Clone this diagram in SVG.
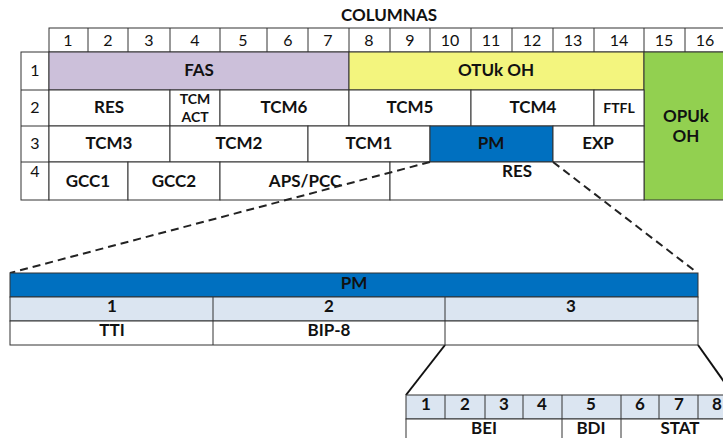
<svg xmlns="http://www.w3.org/2000/svg" width="723" height="438" viewBox="0 0 723 438">
<style>
text{font-family:Lato,"Liberation Sans",Arial,sans-serif;fill:#111;text-anchor:middle}
.n{font-size:16px}
.b{font-size:17px;font-weight:bold}
.s{font-size:14px;font-weight:bold}
.c{stroke:#333;stroke-width:1}
.dash{stroke:#222;stroke-width:2;stroke-dasharray:8,5;fill:none}
.solid{stroke:#111;stroke-width:2;fill:none}
</style>
<rect width="723" height="438" fill="#fff"/>
<text class="b" x="389" y="21">COLUMNAS</text>
<g id="header">
<rect x="49" y="28" width="680" height="24" fill="#fff" class="c"/>
<g class="c">
<line x1="88" y1="28" x2="88" y2="52"/><line x1="128" y1="28" x2="128" y2="52"/><line x1="170" y1="28" x2="170" y2="52"/><line x1="220" y1="28" x2="220" y2="52"/><line x1="267" y1="28" x2="267" y2="52"/><line x1="308" y1="28" x2="308" y2="52"/><line x1="349" y1="28" x2="349" y2="52"/><line x1="390" y1="28" x2="390" y2="52"/><line x1="430" y1="28" x2="430" y2="52"/><line x1="471" y1="28" x2="471" y2="52"/><line x1="512" y1="28" x2="512" y2="52"/><line x1="553" y1="28" x2="553" y2="52"/><line x1="594" y1="28" x2="594" y2="52"/><line x1="644" y1="28" x2="644" y2="52"/><line x1="685" y1="28" x2="685" y2="52"/>
</g>
<g class="n">
<text x="68" y="46">1</text><text x="108" y="46">2</text><text x="149" y="46">3</text><text x="195" y="46">4</text><text x="243" y="46">5</text><text x="288" y="46">6</text><text x="328" y="46">7</text><text x="369" y="46">8</text><text x="410" y="46">9</text><text x="450" y="46">10</text><text x="491" y="46">11</text><text x="532" y="46">12</text><text x="573" y="46">13</text><text x="619" y="46">14</text><text x="664" y="46">15</text><text x="705" y="46">16</text>
</g>
</g>
<g id="rowlabels">
<rect x="21" y="52" width="28" height="148" fill="#fff" class="c"/>
<g class="c"><line x1="21" y1="90" x2="49" y2="90"/><line x1="21" y1="126" x2="49" y2="126"/><line x1="21" y1="162" x2="49" y2="162"/></g>
<g class="n"><text x="35" y="76">1</text><text x="35" y="113">2</text><text x="35" y="149">3</text><text x="35" y="177">4</text></g>
</g>
<g id="fas"><rect x="49" y="52" width="300" height="38" fill="#CCC0DA" class="c"/><text class="b" x="199" y="76">FAS</text></g>
<g id="otuk"><rect x="349" y="52" width="295" height="38" fill="#F3F57E" class="c"/><text class="b" x="496" y="76">OTUk OH</text></g>
<g id="opuk"><rect x="644" y="52" width="85" height="148" fill="#92D050" class="c"/><text class="b" x="686" y="122">OPUk</text><text class="b" x="686" y="142">OH</text></g>
<g id="res2"><rect x="49" y="90" width="121" height="36" fill="#fff" class="c"/><text class="b" x="109" y="113">RES</text></g>
<g id="tcmact"><rect x="170" y="90" width="50" height="36" fill="#fff" class="c"/><text class="s" x="195" y="104">TCM</text><text class="s" x="195" y="122">ACT</text></g>
<g id="tcm6"><rect x="220" y="90" width="129" height="36" fill="#fff" class="c"/><text class="b" x="284" y="113">TCM6</text></g>
<g id="tcm5"><rect x="349" y="90" width="122" height="36" fill="#fff" class="c"/><text class="b" x="410" y="113">TCM5</text></g>
<g id="tcm4"><rect x="471" y="90" width="123" height="36" fill="#fff" class="c"/><text class="b" x="533" y="113">TCM4</text></g>
<g id="ftfl"><rect x="594" y="90" width="50" height="36" fill="#fff" class="c"/><text class="s" x="619" y="113">FTFL</text></g>
<g id="tcm3"><rect x="49" y="126" width="121" height="36" fill="#fff" class="c"/><text class="b" x="109" y="149">TCM3</text></g>
<g id="tcm2"><rect x="170" y="126" width="138" height="36" fill="#fff" class="c"/><text class="b" x="239" y="149">TCM2</text></g>
<g id="tcm1"><rect x="308" y="126" width="122" height="36" fill="#fff" class="c"/><text class="b" x="369" y="149">TCM1</text></g>
<g id="pm"><rect x="430" y="126" width="123" height="36" fill="#0070C0" class="c"/><text class="b" x="491" y="149">PM</text></g>
<g id="exp"><rect x="553" y="126" width="91" height="36" fill="#fff" class="c"/><text class="b" x="598" y="149">EXP</text></g>
<g id="gcc1"><rect x="49" y="162" width="79" height="38" fill="#fff" class="c"/><text class="b" x="88" y="187">GCC1</text></g>
<g id="gcc2"><rect x="128" y="162" width="92" height="38" fill="#fff" class="c"/><text class="b" x="174" y="187">GCC2</text></g>
<g id="apspcc"><rect x="220" y="162" width="170" height="38" fill="#fff" class="c"/><text class="b" x="305" y="187">APS/PCC</text></g>
<g id="res4"><rect x="390" y="162" width="254" height="38" fill="#fff" class="c"/><text class="b" x="517" y="177">RES</text></g>
<g id="connectors">
<line class="dash" x1="430" y1="162" x2="10" y2="273"/>
<line class="dash" x1="553" y1="162" x2="695" y2="271"/>
<line class="solid" x1="445" y1="345" x2="406" y2="395"/>
<line class="solid" x1="698" y1="345" x2="725" y2="383"/>
</g>
<g id="pmtable">
<rect x="10" y="273" width="688" height="24" fill="#0070C0" class="c"/>
<text class="b" x="354" y="289">PM</text>
<rect x="10" y="297" width="688" height="24" fill="#DBE5F1" class="c"/>
<rect x="10" y="321" width="688" height="24" fill="#fff" class="c"/>
<g class="c"><line x1="213" y1="297" x2="213" y2="345"/><line x1="445" y1="297" x2="445" y2="345"/></g>
<text class="b" x="112" y="312">1</text><text class="b" x="329" y="312">2</text><text class="b" x="571" y="312">3</text>
<text class="b" x="112" y="336">TTI</text><text class="b" x="329" y="336">BIP-8</text>
</g>
<g id="bytetable">
<rect x="406" y="395" width="330" height="24" fill="#DBE5F1" class="c"/>
<rect x="406" y="419" width="330" height="24" fill="#fff" class="c"/>
<g class="c">
<line x1="445" y1="395" x2="445" y2="419"/><line x1="485" y1="395" x2="485" y2="419"/><line x1="523" y1="395" x2="523" y2="419"/><line x1="562" y1="395" x2="562" y2="443"/><line x1="621" y1="395" x2="621" y2="443"/><line x1="659" y1="395" x2="659" y2="419"/><line x1="698" y1="395" x2="698" y2="419"/>
</g>
<text class="b" x="426" y="410">1</text><text class="b" x="465" y="410">2</text><text class="b" x="504" y="410">3</text><text class="b" x="542" y="410">4</text><text class="b" x="591" y="410">5</text><text class="b" x="640" y="410">6</text><text class="b" x="679" y="410">7</text><text class="b" x="717" y="410">8</text>
<text class="b" x="484" y="434">BEI</text><text class="b" x="591" y="434">BDI</text><text class="b" x="680" y="434">STAT</text>
</g>
</svg>
